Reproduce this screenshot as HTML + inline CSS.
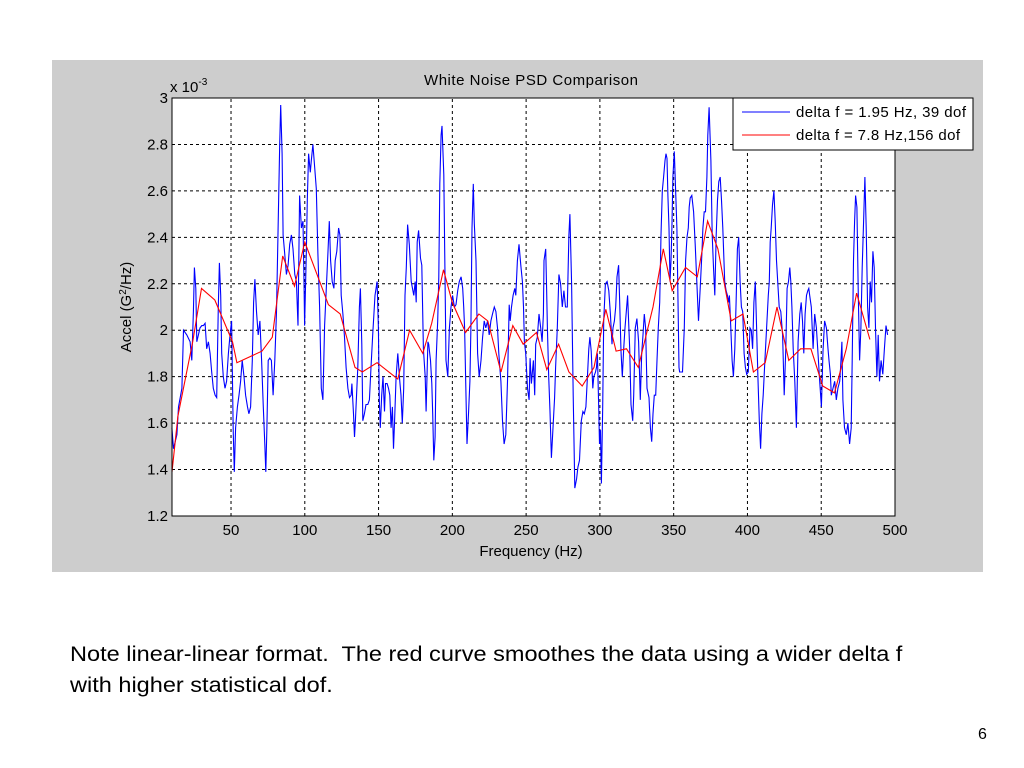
<!DOCTYPE html>
<html><head><meta charset="utf-8"><style>
body{margin:0;width:1024px;height:768px;background:#fff;overflow:hidden;font-family:"Liberation Sans",sans-serif;}
svg{position:absolute;left:0;top:0}
.note{position:absolute;left:70px;top:639px;font-size:21px;line-height:31px;color:#000;transform:scaleX(1.12);transform-origin:0 0;white-space:nowrap;}
.pg{position:absolute;left:978px;top:726px;font-size:16px;}
</style></head><body>
<svg id="chart" width="1024" height="768" xmlns="http://www.w3.org/2000/svg">
<rect x="52" y="60" width="931" height="512" fill="#cdcdcd"/>
<rect x="172" y="98" width="723" height="418" fill="#fff"/>
<g id="grid"></g>
<g id="series"></g>
<rect x="172" y="98" width="723" height="418" fill="none" stroke="#000" stroke-width="1"/>
<g id="ticks" font-size="15" font-family="Liberation Sans, sans-serif"></g>
<text x="531" y="85" font-size="15" text-anchor="middle" font-family="Liberation Sans, sans-serif" textLength="214">White Noise PSD Comparison</text>
<text x="170" y="92" font-size="15">x 10<tspan dy="-7" font-size="10">-3</tspan></text>
<text x="531" y="556" font-size="15" text-anchor="middle">Frequency (Hz)</text>
<text transform="translate(131,307) rotate(-90)" font-size="15" text-anchor="middle">Accel (G<tspan dy="-5" font-size="10">2</tspan><tspan dy="5">/Hz)</tspan></text>
<g>
<rect x="733" y="98" width="240" height="52" fill="#fff" stroke="#000" stroke-width="1"/>
<line x1="742" y1="112" x2="790" y2="112" stroke="#0000ff" stroke-width="1"/>
<text x="796" y="117" font-size="15" textLength="170">delta f = 1.95 Hz, 39 dof</text>
<line x1="742" y1="135" x2="790" y2="135" stroke="#ff0000" stroke-width="1"/>
<text x="796" y="140" font-size="15" textLength="164">delta f = 7.8 Hz,156 dof</text>
</g>
</svg>
<div class="note">Note linear-linear format.&nbsp; The red curve smoothes the data using a wider delta f<br>with higher statistical dof.</div>
<div class="pg">6</div>
<script>
const xTicks=[50,100,150,200,250,300,350,400,450,500];
const yTicks=[1.2,1.4,1.6,1.8,2,2.2,2.4,2.6,2.8,3];
const yTickLabels=["1.2","1.4","1.6","1.8","2","2.2","2.4","2.6","2.8","3"];
const redFreq=[10,14,24,30,39,51,54,71,78,85,93,100,116,124,134,139,149,163,171,180,186,194,200,209,218,224,233,241,248,257,264,272,279,288,296,304,311,318,326,336,343,349,358,366,373,380,389,397,404,412,420,428,436,443,451,459,467,474,483];
const redVal=[1.39,1.63,1.95,2.18,2.13,1.95,1.86,1.91,1.97,2.32,2.19,2.38,2.11,2.07,1.84,1.82,1.86,1.79,2.0,1.90,2.03,2.26,2.12,1.99,2.07,2.04,1.82,2.02,1.94,1.99,1.83,1.94,1.82,1.76,1.84,2.09,1.91,1.92,1.84,2.10,2.35,2.17,2.27,2.23,2.47,2.35,2.04,2.07,1.82,1.86,2.1,1.87,1.92,1.92,1.76,1.73,1.92,2.16,1.96];
const blueFreq=[9.9,11,13.3,14.4,16.7,17.8,20,22.3,23.4,24.5,25.2,26.1,26.8,27.9,29,30.2,31.3,32.4,33.5,34.7,35.8,36.9,38,39.2,40.3,41.4,42.1,43,43.7,44.8,45.9,47,48.2,49.3,50.4,51.5,52.2,53.1,54.3,55.4,56.5,57.6,58.8,59.9,61.2,62.1,63.3,64.4,65.3,66.2,67.3,68.4,69.6,70.7,71.8,72.9,73.6,74.3,75.2,76.3,77.4,78.5,79.7,80.8,81.9,83,83.7,84.6,85.3,86.4,87.5,88.7,89.8,90.9,92,93.2,94.3,95.4,96.5,97.7,98.8,99.5,99.9,101,101.7,102.6,103.7,104.4,105.5,106.7,107.8,108.9,110,111.2,112.3,113.4,115.7,116.6,117.5,118.6,119.7,120.6,121.7,122.9,123.8,124.7,125.8,126.9,128,129.2,130.3,131.4,131.9,133,133.7,134.3,135.9,137,137.7,138.6,139.3,140.4,141.5,142.7,143.8,144.9,146,147.6,149,149.9,150.5,151.2,152.1,153,154,154.7,155.8,156.7,157.6,158.5,159.4,160.1,160.8,161.9,163,164.1,165.2,166.1,167,167.9,168.8,169.7,
170.8,172.1,173.9,174.8,175.5,176.2,177.1,178.4,179.3,180.4,181.6,182.2,183.4,184,185.2,186.1,186.7,187.4,188.3,189,190.1,190.8,191.5,192.4,193,194.2,195.7,196.9,198,199.1,200.2,201.4,202.5,203.6,204.7,205.9,207,207.7,208.3,209,209.9,211,211.9,212.6,213.3,214.2,214.9,216,217.1,218.2,219.4,220.5,221.6,222.7,223.9,225,226.1,227.2,228.4,229.5,230.6,231.5,232.9,234,235.1,236.2,237.4,238.5,239.2,240.1,241.2,242.3,243,244.1,245.2,246.4,247.5,248.2,248.8,249.7,250.9,252,252.7,253.6,254.9,255.8,256.5,257.6,258.7,259.9,260.8,261.7,262.1,263.3,263.9,264.4,265.3,266.2,267.1,268.2,269.3,270,271.1,272.2,273.4,274.5,275.6,276.7,277.9,279,279.7,280.8,281.9,283,284.2,285.1,286.2,287.4,288.5,289.4,290.5,291.4,292.5,293.2,294.1,295.2,295.9,297,297.7,298.3,299.2,299.7,300.4,301,301.9,302.6,303.7,304.9,306,307.1,308.2,308.9,309.8,310.7,311.6,312.7,313.4,314.3,315.2,316.1,317,317.9,318.8,320.2,321.1,322.2,322.9,324,325.1,326.2,327.4,328.3,329.2,330.1,331,331.9,
333.3,334.2,335.1,336,336.9,337.8,338.7,339.6,340.5,341.4,342.3,343.2,344.1,344.8,345.5,346.1,346.8,347.5,348.2,348.8,349.5,350.4,352.2,353.6,354,354.9,356,357.2,358.1,359,359.9,360.5,361.2,362.3,363.5,364.6,365.7,366.8,368,369.1,369.8,370.7,371.6,372.5,373.1,374,375.2,376.1,377,377.9,378.8,379.7,380.6,381.5,382.4,383.3,384.6,385.5,386.4,387.3,387.8,388.7,389.6,390.5,391.4,392.3,393.2,394.1,395,395.9,396.8,397.7,398.6,399.5,400.6,401.7,402.6,403.5,404.4,405.3,406.2,407.1,408,408.9,409.8,410.7,411.8,413,414.1,414.8,415.4,416.1,417,417.9,418.8,419.7,420.8,421.5,422.6,423.8,424.9,426,426.9,427.8,428.7,429.4,430.1,431,432.1,433.2,434.3,435.5,436.4,437.3,438.2,439.1,440,440.9,441.6,442.2,443.3,444.5,445.6,446.7,447.8,449,450.1,451.2,452.3,453.5,454.6,455.3,456.2,456.8,458,459.1,460.2,461.3,462.5,463.1,464,464.7,465.8,467,468.1,469.2,470.3,471,471.9,472.6,473.3,474.2,475.1,476,476.9,477.8,478.7,479.6,480.5,481.4,482.3,483.2,484.1,485,485.9,486.8,487.7,488.6,489.5,490.6,491.7,492.8,493.9,495];
const blueVal=[1.58,1.49,1.55,1.67,1.75,2.0,1.98,1.95,1.87,2.08,2.27,2.18,1.95,1.98,2.01,2.02,2.02,2.03,1.92,1.95,1.90,1.82,1.75,1.72,1.71,2.10,2.29,2.15,1.90,1.80,1.75,1.78,1.90,1.98,2.04,1.57,1.39,1.58,1.67,1.72,1.78,1.87,1.80,1.72,1.67,1.64,1.67,1.87,2.12,2.22,2.08,1.98,2.04,1.87,1.68,1.51,1.39,1.58,1.87,1.88,1.87,1.72,1.87,2.08,2.44,2.80,2.97,2.76,2.41,2.33,2.24,2.28,2.37,2.41,2.35,2.24,2.21,2.02,2.58,2.44,2.47,2.18,2.02,2.33,2.56,2.76,2.68,2.73,2.80,2.70,2.61,2.33,2.10,1.75,1.70,2.02,2.34,2.47,2.30,2.21,2.18,2.30,2.34,2.44,2.41,2.15,2.07,1.97,1.84,1.75,1.71,1.72,1.77,1.64,1.54,1.61,1.84,2.10,2.18,1.94,1.61,1.64,1.68,1.68,1.70,1.84,1.98,2.15,2.21,2.01,1.70,1.58,1.72,1.80,1.65,1.77,1.77,1.75,1.72,1.58,1.67,1.49,1.60,1.80,1.90,1.80,1.72,1.60,1.75,2.15,2.27,2.455,2.37,2.21,2.15,
2.21,2.12,2.38,2.43,2.31,2.28,1.92,1.80,1.65,1.95,1.94,1.87,1.77,1.64,1.44,1.54,1.87,2.04,2.23,2.63,2.84,2.88,2.67,1.87,1.80,2.01,2.10,2.15,2.10,2.11,2.17,2.21,2.23,2.18,2.10,2.01,1.80,1.51,1.65,1.78,2.01,2.44,2.63,2.46,2.30,1.90,1.80,1.87,1.97,2.04,2.01,2.04,1.98,2.04,2.07,2.10,2.08,2.01,1.90,1.78,1.61,1.51,1.55,1.78,2.11,2.04,2.10,2.15,2.18,2.15,2.30,2.37,2.28,2.21,2.10,1.95,1.90,1.75,1.70,1.88,1.77,1.87,1.72,1.94,1.97,2.07,2.01,1.95,2.07,2.30,2.35,2.18,2.01,1.80,1.65,1.45,1.58,1.71,1.84,2.01,2.24,2.20,2.10,2.17,2.10,2.10,2.41,2.50,2.20,1.72,1.32,1.36,1.41,1.44,1.61,1.65,1.64,1.67,1.78,1.92,1.97,1.91,1.75,1.80,1.82,1.84,1.90,1.67,1.51,1.57,1.34,1.67,2.04,2.20,2.21,2.17,2.07,1.94,2.01,2.04,2.10,2.23,2.28,2.12,1.91,1.80,1.92,2.01,2.08,2.15,1.92,1.68,1.61,1.72,2.01,2.05,1.95,1.70,1.90,1.98,2.07,2.01,1.75,1.71,1.58,1.52,
1.64,1.72,1.72,1.87,2.01,2.12,2.41,2.60,2.66,2.73,2.76,2.74,2.58,2.44,2.21,2.30,2.44,2.66,2.77,2.44,1.84,1.82,1.82,1.82,2.01,2.30,2.40,2.44,2.53,2.57,2.58,2.51,2.37,2.21,2.04,2.18,2.33,2.44,2.51,2.51,2.66,2.84,2.96,2.73,2.41,2.27,2.15,2.41,2.56,2.64,2.66,2.56,2.44,2.21,2.17,2.15,2.12,2.15,2.01,1.87,1.80,1.92,2.12,2.35,2.40,2.21,2.10,2.08,1.90,1.84,1.81,1.82,2.01,2.0,1.92,2.12,2.21,2.01,1.80,1.61,1.49,1.64,1.72,1.87,2.01,2.15,2.21,2.38,2.44,2.54,2.60,2.47,2.30,2.18,2.10,2.08,1.98,1.72,1.92,2.18,2.21,2.27,2.21,2.10,1.92,1.78,1.58,1.95,2.07,2.12,2.04,1.90,2.07,2.15,2.17,2.18,2.15,2.10,1.92,2.07,2.01,1.90,1.78,1.67,1.91,2.04,2.01,1.92,1.87,1.81,1.72,1.75,1.78,1.70,1.75,1.78,1.84,1.95,1.70,1.58,1.55,1.60,1.51,1.58,1.87,2.30,2.47,2.58,2.53,2.15,1.87,2.01,2.27,2.47,2.66,2.44,2.10,2.01,2.21,2.12,2.34,2.27,2.01,1.80,1.98,1.78,1.87,1.81,1.92,2.02,1.98,1.90,1.82,1.80];

const X0=172,X1=895,Y0=516,Y1=98,XMIN=10,XMAX=500,YMIN=1.2,YMAX=3;
function xs(f){return X0+(f-XMIN)*(X1-X0)/(XMAX-XMIN);}
function ys(v){return Y0-(v-YMIN)*(Y0-Y1)/(YMAX-YMIN);}
const NS="http://www.w3.org/2000/svg";
const grid=document.getElementById('grid'),ticks=document.getElementById('ticks'),series=document.getElementById('series');
function mk(t,a){const e=document.createElementNS(NS,t);for(const k in a)e.setAttribute(k,a[k]);return e;}
xTicks.forEach(t=>{
  const x=xs(t);
  if(t<XMAX){const g=mk('line',{x1:x,y1:Y0,x2:x,y2:Y1,stroke:'#000','stroke-dasharray':'3,3','stroke-width':1});
  
  
  grid.appendChild(g);}
  const l=mk('text',{x:x,y:Y0+19,'text-anchor':'middle'});l.textContent=String(t);
  
  
  ticks.appendChild(l);
});
yTicks.forEach((t,i)=>{
  const y=ys(t);
  if(i>0&&i<yTicks.length-1){const g=mk('line',{x1:X0,y1:y,x2:X1,y2:y,stroke:'#000','stroke-dasharray':'3,3','stroke-width':1});
  
  
  grid.appendChild(g);}
  const l=mk('text',{x:X0-4,y:y+5,'text-anchor':'end'});l.textContent=yTickLabels[i];
  
  
  ticks.appendChild(l);
});
function line(fr,vals,color,name){
  const d=fr.map((f,i)=>(i?'L':'M')+xs(f).toFixed(1)+','+ys(vals[i]).toFixed(1)).join('');
  const p=mk('path',{d:d,fill:'none',stroke:color,'stroke-width':1.1});
  
  
  series.appendChild(p);
}
line(blueFreq,blueVal,'#0000ff','blue-series-1p95hz');
line(redFreq,redVal,'#ff0000','red-series-7p8hz');
</script>
</body></html>
